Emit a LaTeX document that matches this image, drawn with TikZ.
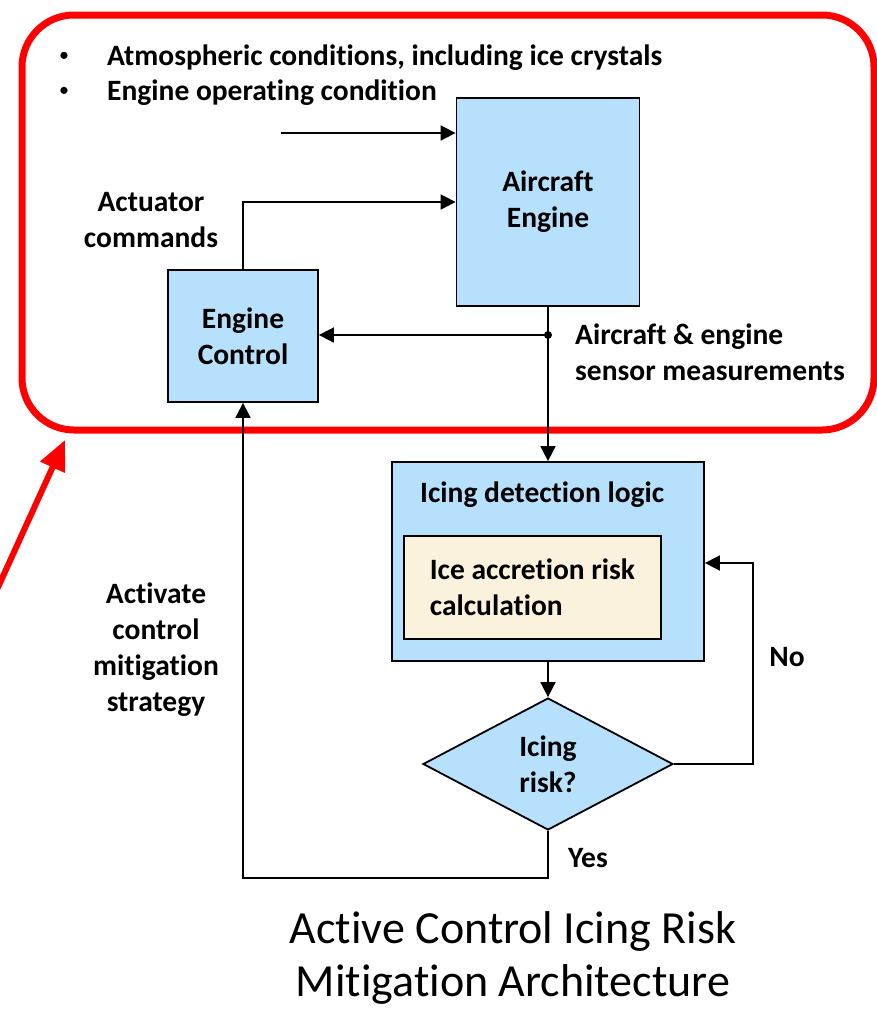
\documentclass[tikz,border=0pt]{standalone}
\usepackage{fontspec}
\setmainfont{Carlito}[Ligatures={NoCommon}]
\usetikzlibrary{arrows.meta,shapes.geometric}
\definecolor{boxblue}{RGB}{183,224,252}
\definecolor{cream}{RGB}{250,242,220}
\definecolor{alertred}{RGB}{255,0,0}
\begin{document}
\begin{tikzpicture}[x=1pt,y=-1pt,
  every node/.style={font=\fontsize{29.5}{36}\selectfont\bfseries},
  blk/.style={draw=black,line width=1.8pt,fill=boxblue,inner sep=0pt,align=center},
  conn/.style={line width=1.8pt,-{Triangle[length=15pt,width=15pt]}},
  lbl/.style={align=center,inner sep=0pt},
  dot/.style={inner sep=0pt,font=\fontsize{20}{24}\selectfont}]
\useasboundingbox (0,0) rectangle (877,1013);
% red frame and pointer
\draw[alertred,line width=7pt,rounded corners=52pt] (22,15) rectangle (874,430);
\coordinate (redstart) at (-6,596);
\coordinate (redtip) at (65,440);
\draw[alertred,line width=6pt,-{Triangle[length=30pt,width=26pt]}] (redstart) -- (redtip);
% bullets
\node[dot] (d1) at (64,57) {•};
\node[lbl,anchor=west] (b1) at (107,58) {Atmospheric conditions, including ice crystals};
\node[dot] (d2) at (64,92) {•};
\node[lbl,anchor=west] (b2) at (107,93) {Engine operating condition};
% blocks
\node[blk,minimum width=183pt,minimum height=208pt] (eng) at (548,202) {Aircraft\\Engine};
\node[blk,minimum width=150pt,minimum height=132pt] (ctrl) at (243,336) {Engine\\Control};
\node[blk,minimum width=312pt,minimum height=199pt] (det) at (548,561.5) {};
\node[lbl,anchor=west] (dettitle) at (420,495) {Icing detection logic};
\node[draw=black,line width=1.8pt,fill=cream,minimum width=257pt,minimum height=103pt,
      align=left,inner sep=0pt] (calc) at (532.5,587.5) {Ice accretion risk\\calculation};
\node[diamond,draw=black,line width=1.8pt,fill=boxblue,aspect=1.9,inner sep=0pt,
      minimum width=250pt,minimum height=132pt,align=center] (risk) at (548,764) {Icing\\risk?};
% connectors
\coordinate (in1) at (281,133);
\draw[conn] (in1) -- (eng.west |- in1);
\draw[conn] (ctrl.north) |- (eng.west);
\coordinate (tap) at (548,335);
\draw[conn] (eng.south) -- (det.north);
\fill (tap) circle (4pt);
\draw[conn] (tap) -- (ctrl.east |- tap);
\draw[conn] (det.south) -- (risk.north);
\coordinate (nocorner) at (753,563);
\draw[conn] (risk.east) -| (nocorner) -- (det.east |- nocorner);
\coordinate (yescorner) at (548,878);
\draw[conn] (risk.south) -- (yescorner) -| (ctrl.south);
% labels
\node[lbl] (act) at (151,220) {Actuator\\commands};
\node[lbl,align=left,anchor=west] (sens) at (575,352) {Aircraft \& engine\\sensor measurements};
\node[lbl] (mitig) at (156,650) {Activate\\control\\mitigation\\strategy};
\node[lbl] (no) at (787,657) {No};
\node[lbl] (yes) at (588,858) {Yes};
% title
\node[lbl,font=\fontsize{46}{53}\selectfont] (title) at (513,958) {Active Control Icing Risk\\Mitigation Architecture};
\end{tikzpicture}
\end{document}
